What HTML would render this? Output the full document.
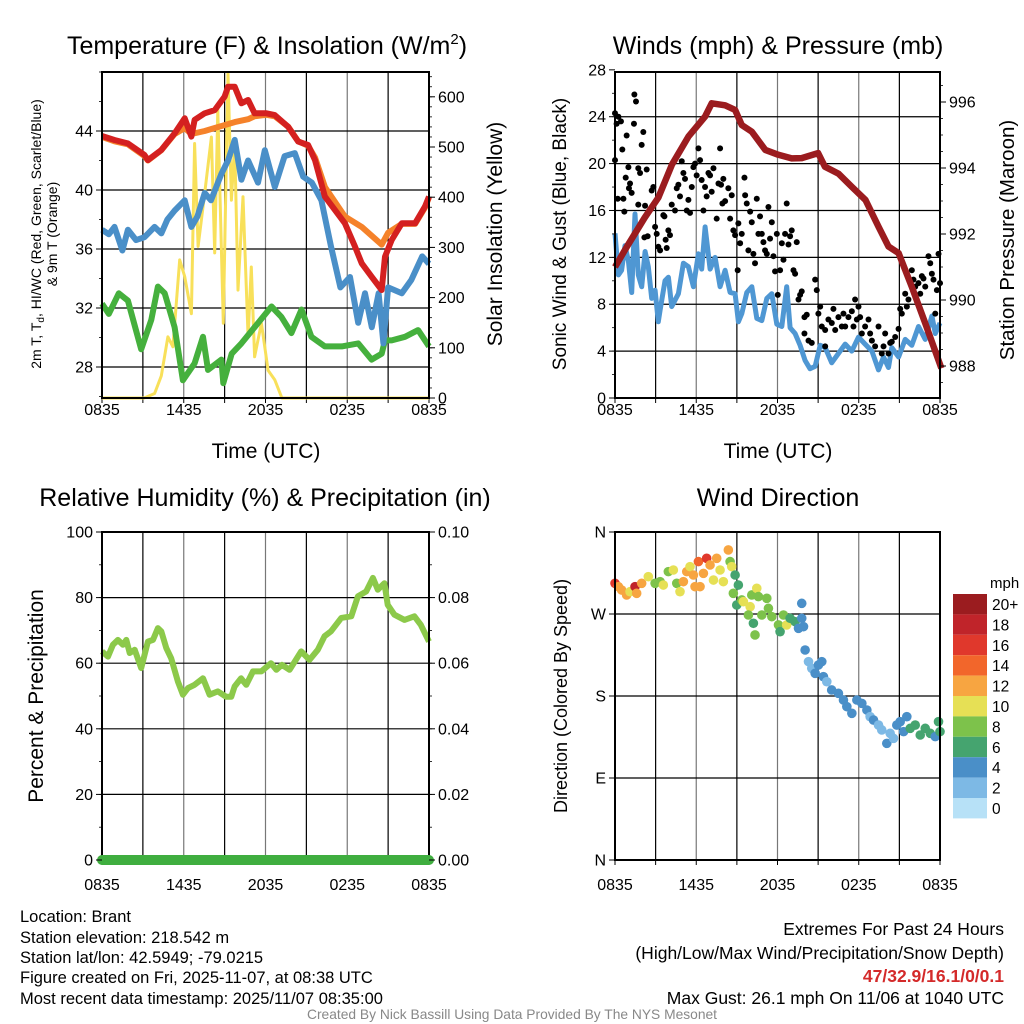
<!DOCTYPE html>
<html><head><meta charset="utf-8"><style>
body{margin:0;background:#fff;}
svg{display:block;font-family:"Liberation Sans",Arial,sans-serif;}
</style></head><body>
<svg id="c" width="1024" height="1024" viewBox="0 0 1024 1024" xmlns="http://www.w3.org/2000/svg">
<rect width="1024" height="1024" fill="#fff"/>
<text x="267" y="54" font-size="25" text-anchor="middle">Temperature (F) &amp; Insolation (W/m<tspan font-size="15" dy="-10">2</tspan><tspan dy="10">)</tspan></text>
<text x="778" y="54" font-size="25" text-anchor="middle">Winds (mph) &amp; Pressure (mb)</text>
<text x="265" y="506" font-size="25" text-anchor="middle">Relative Humidity (%) &amp; Precipitation (in)</text>
<text x="778" y="506" font-size="25" text-anchor="middle">Wind Direction</text>
<text x="266" y="458" font-size="21" text-anchor="middle">Time (UTC)</text>
<text x="778" y="458" font-size="21" text-anchor="middle">Time (UTC)</text>
<text transform="translate(41,234) rotate(-90)" font-size="14" text-anchor="middle">2m T, T<tspan font-size="10" dy="3">d</tspan><tspan dy="-3">, HI/WC (Red, Green, Scarlet/Blue)</tspan></text>
<text transform="translate(57,234) rotate(-90)" font-size="14" text-anchor="middle">&amp; 9m T (Orange)</text>
<text transform="translate(502,234) rotate(-90)" font-size="21" text-anchor="middle">Solar Insolation (Yellow)</text>
<text transform="translate(566,234) rotate(-90)" font-size="19" text-anchor="middle">Sonic Wind &amp; Gust (Blue, Black)</text>
<text transform="translate(1014,240) rotate(-90)" font-size="20.5" text-anchor="middle">Station Pressure (Maroon)</text>
<text transform="translate(43,696) rotate(-90)" font-size="21" text-anchor="middle">Percent &amp; Precipitation</text>
<text transform="translate(567,696) rotate(-90)" font-size="18" text-anchor="middle">Direction (Colored By Speed)</text>
<g font-size="16.5">
<text x="20" y="922">Location: Brant</text>
<text x="20" y="943">Station elevation: 218.542 m</text>
<text x="20" y="963">Station lat/lon: 42.5949; -79.0215</text>
<text x="20" y="983">Figure created on Fri, 2025-11-07, at 08:38 UTC</text>
<text x="20" y="1004">Most recent data timestamp: 2025/11/07 08:35:00</text>
</g>
<g font-size="17.5" text-anchor="end">
<text x="1004" y="935">Extremes For Past 24 Hours</text>
<text x="1004" y="959">(High/Low/Max Wind/Precipitation/Snow Depth)</text>
<text x="1004" y="982" fill="#d42a2a" font-weight="bold">47/32.9/16.1/0/0.1</text>
<text x="1004" y="1004">Max Gust: 26.1 mph On 11/06 at 1040 UTC</text>
</g>
<text x="512" y="1019" font-size="13.8" fill="#888" text-anchor="middle">Created By Nick Bassill Using Data Provided By The NYS Mesonet</text>
</svg>
<script>
// ---- data (hours since 0835 UTC) ----
const xLabels=["0835","1435","2035","0235","0835"];
const tempTicks=[28,32,36,40,44];
const solarTicks=[0,100,200,300,400,500,600];
const windTicks=[0,4,8,12,16,20,24,28];
const presTicks=[988,990,992,994,996];
const rhTicks=[0,20,40,60,80,100];
const precipTicks=["0.00","0.02","0.04","0.06","0.08","0.10"];
const dirTicks=["N","E","S","W","N"];
const redH=[0,0.92,1.9,3.12,3.37,4.35,5.33,6.07,6.56,6.8,7.54,8.27,9.0,9.25,9.74,10.23,10.72,11.2,12.07,12.68,13.66,14.4,15.13,15.63,16.36,17.1,17.83,18.57,19.06,19.79,20.53,20.77,21.26,22.0,22.98,23.7,24];
const redT=[43.66,43.39,43.16,42.37,42.03,42.71,43.84,44.86,43.62,44.75,45.2,45.42,46.33,47.0,47.0,45.88,46.1,45.2,45.2,45.08,44.29,43.28,43.05,42.03,39.55,38.64,37.74,36.16,35.03,34.12,33.22,35.48,36.61,37.74,37.74,38.87,39.55];
const orgH=[0,0.92,1.9,3.12,3.37,4.35,5.33,6.07,6.56,7.54,8.27,9.0,9.74,10.72,11.2,12.07,12.68,13.66,14.4,15.13,15.63,16.36,17.83,19.06,20.53,21.0,22.0,22.98,23.7,24];
const orgT=[43.6,43.3,43.1,42.3,42.0,42.7,43.8,44.2,43.8,44.0,44.2,44.4,44.6,44.8,45.0,45.1,45.0,44.3,43.3,43.0,42.2,40.2,38.2,37.5,36.3,37.1,37.7,37.7,38.8,39.5];
const bluH=[0,0.5,0.92,1.5,1.9,2.5,3.12,3.86,4.35,4.8,5.33,6.07,6.56,7.0,7.54,8.0,8.76,9.25,9.74,10.23,10.72,11.45,11.95,12.68,13.4,14.15,14.77,15.4,16.1,16.8,17.5,18.2,18.8,19.3,19.8,20.3,20.65,21.0,22.0,22.7,23.5,24];
const bluT=[37.3,37.0,37.5,35.9,37.3,36.6,36.8,37.5,37.06,38.0,38.6,39.3,37.5,38.2,39.8,39.3,41.1,42.0,43.4,40.7,42.0,40.5,42.7,40.2,42.3,42.5,40.9,40.5,39.3,36.2,33.4,34.1,31.0,33.0,30.7,33.0,29.6,33.4,33.0,33.9,35.5,35.0];
const grnH=[0,0.5,1.23,1.9,2.88,3.62,4.1,4.6,5.33,5.94,6.8,7.41,7.78,8.76,8.9,9.52,10.23,11.2,12.44,13.17,13.9,14.64,15.37,16.36,17.6,18.8,19.79,20.53,20.77,21.26,22.24,23.2,24];
const grnT=[32.3,31.6,33.0,32.5,29.2,31.2,33.45,33.0,30.7,27.1,28.25,30.05,27.8,28.5,26.9,28.9,29.6,30.7,32.1,31.4,30.3,31.9,30.05,29.4,29.4,29.6,28.5,28.9,29.8,29.8,30.05,30.5,29.4];
const solH=[0,3.1,3.86,4.35,4.84,5.2,5.7,6.07,6.56,6.8,7.05,7.54,8.03,8.27,8.5,8.9,9.25,9.5,9.74,9.98,10.35,10.72,10.96,11.2,11.7,12.19,12.68,13.2,24];
const solW=[0,0,9,44,122,102,275,242,168,507,302,408,520,289,574,149,647,394,507,215,401,122,261,82,149,55,36,0,0];
const presH=[0,0.86,2.2,3.2,4.2,5.42,6.65,7.14,8.13,8.87,9.36,10.1,11.1,12.07,13.05,13.79,15.0,15.5,16.5,17.49,18.5,19.46,20.2,20.94,21.92,22.91,24.1];
const presMb=[991.0,991.6,992.5,993.1,994.1,994.95,995.56,995.96,995.9,995.76,995.3,995.1,994.55,994.4,994.29,994.3,994.45,994.04,993.83,993.43,993.03,992.22,991.62,991.42,990.4,989.3,987.93];
const windH=[0,0.25,0.49,0.74,0.99,1.23,1.48,1.72,1.97,2.22,2.46,2.71,2.96,3.2,3.33,3.69,3.94,4.19,4.68,5.05,5.42,5.79,6.16,6.4,6.65,7.02,7.39,7.76,8.13,8.5,8.87,9.11,9.36,9.73,10.1,10.47,10.84,11.21,11.58,11.95,12.32,12.68,12.93,13.3,13.67,14.04,14.4,14.78,15.15,15.52,16.0,16.5,17.0,17.49,17.98,18.47,18.97,19.46,19.83,20.2,20.44,20.94,21.43,21.92,22.41,22.91,23.4,23.65,24];
const windMph=[14.05,10.5,10.9,13.0,11.7,9.0,15.7,10.5,9.5,12.5,11.2,8.5,9.2,6.5,7.5,10.0,10.3,7.8,8.9,11.5,11.2,9.5,12.3,11.0,14.6,11.0,12.0,9.5,10.9,9.0,8.9,6.5,7.2,9.0,9.5,6.8,6.6,8.5,8.9,6.3,6.1,9.5,6.0,5.5,4.5,3.2,2.5,2.7,4.5,4.3,3.0,3.8,4.6,4.0,5.2,4.6,4.0,2.4,3.5,2.6,4.3,3.5,5.0,4.5,6.1,5.0,7.0,5.5,6.4];
const gustH=[0,0,0.12,0.25,0.44,0.2,0.62,0.54,0.86,0.79,0.99,1.03,1.11,1.23,0.69,1.4,1.43,1.55,1.72,1.85,1.72,1.97,2.09,2.22,2.34,2.17,2.41,2.71,2.83,2.96,3.08,3.2,3.33,3.57,3.65,3.74,3.82,3.94,4.06,4.19,4.43,4.56,4.68,4.8,4.93,5.05,5.17,5.3,5.42,5.54,5.67,5.79,5.91,6.03,6.16,6.28,6.4,6.53,6.65,6.77,6.9,7.02,7.14,7.27,7.51,7.64,7.76,7.83,7.93,8.0,8.13,8.37,8.5,8.62,8.74,8.87,9.06,9.11,9.24,9.36,9.56,9.61,9.73,9.85,9.98,10.1,10.22,10.34,10.47,10.59,10.71,10.84,10.96,11.08,11.21,11.33,11.45,11.58,11.7,11.82,11.95,12.02,12.19,12.32,12.44,12.56,12.68,12.81,12.93,13.05,13.18,13.3,13.42,13.55,13.67,13.79,13.99,14.16,13.99,14.29,14.53,14.78,14.9,15.02,15.15,15.27,15.52,15.52,15.76,16.01,16.13,16.26,16.5,16.75,16.87,17.0,17.24,17.49,17.61,17.73,17.86,17.98,18.1,18.23,18.47,18.72,18.84,18.97,19.21,19.46,19.7,19.83,19.95,20.2,20.32,20.44,20.69,20.94,21.06,21.18,21.43,21.55,21.67,21.92,22.04,22.17,22.41,22.54,22.66,22.78,22.91,23.15,23.28,23.4,23.52,23.65,23.77,23.89,24.0];
const gustMph=[20.3,24.3,23.4,24.0,23.6,17.0,17.0,21.2,22.4,18.8,19.7,17.9,18.3,17.5,15.9,23.4,25.9,25.3,19.6,19.2,16.5,21.6,22.7,16.4,19.5,13.7,13.8,17.7,18.0,14.6,14.0,12.9,12.6,15.6,15.5,13.5,12.8,14.3,13.9,16.5,16.0,17.9,18.2,17.2,20.2,19.2,18.7,16.0,16.9,15.8,18.0,19.7,20.0,19.0,21.3,20.3,18.6,16.0,18.0,17.2,19.2,19.0,17.6,19.6,15.3,18.3,21.3,18.2,16.6,18.7,16.8,17.9,15.3,17.3,14.3,13.9,10.9,14.9,13.2,14.0,18.8,17.3,16.6,12.6,15.9,15.0,12.3,11.5,17.0,14.0,15.5,14.0,13.3,12.6,12.3,16.3,13.6,15.0,12.1,10.8,14.0,8.8,10.9,13.2,11.8,14.0,16.6,13.1,13.8,14.3,10.9,10.6,13.3,8.4,8.8,9.1,6.9,7.1,5.5,4.9,4.7,10.1,9.2,7.2,7.8,6.1,4.4,5.8,6.7,6.4,7.6,5.8,6.9,6.1,7.2,6.1,6.9,7.4,6.1,8.4,6.7,7.8,6.9,5.5,6.1,6.7,5.5,4.9,4.4,6.1,3.8,4.4,5.5,3.8,4.7,4.8,5.2,5.9,7.6,7.2,8.9,7.8,8.4,10.9,10.1,9.5,9.8,8.9,10.4,10.2,9.5,12.1,11.5,10.6,10.1,7.2,9.2,12.3,9.8];
const rhH=[0,0.44,0.8,1.17,1.54,1.78,2.03,2.4,2.88,3.37,3.74,4.1,4.35,4.72,5.08,5.57,5.94,6.31,6.8,7.41,7.9,8.5,9.1,9.49,9.73,10.2,10.59,11.08,11.69,12.4,12.8,13.2,13.77,14.62,15.23,15.84,16.33,16.8,17.56,18.3,18.78,19.39,19.88,20.24,20.73,20.97,21.46,22.2,22.93,23.4,24];
const rhPct=[63.6,62,65.6,67.1,65.6,67.1,63.1,64.1,58.5,66.6,67.1,70.7,69.7,64.6,61.5,54.4,50.4,52.4,53.4,55.4,50.4,51.4,49.8,49.8,52.9,55.4,53.4,57.5,57.5,60.0,58.0,59.5,58.0,63.6,61.0,64.1,68.2,69.7,73.8,74.3,80.4,81.9,86.0,82.4,84.4,77.8,74.8,73.2,74.3,71.7,66.6];
const precipH=[0,24];
const precipIn=[0,0];
const dirH=[0,0.25,0.49,0.86,1.11,1.48,1.6,1.97,2.46,2.96,3.33,3.57,3.94,4.31,4.56,4.8,5.05,5.3,5.54,5.79,5.91,6.28,6.16,6.53,6.77,7.02,7.27,7.51,7.76,8.0,8.37,8.5,8.62,8.87,9.11,8.74,8.99,9.36,9.48,9.98,10.1,10.47,10.59,11.21,9.85,10.22,10.34,10.84,11.33,11.58,12.07,12.19,12.44,12.68,12.93,13.3,13.55,13.79,13.79,13.92,14.04,14.29,14.53,14.78,15.27,15.02,15.39,15.64,16.0,16.5,16.87,17.12,17.49,17.86,18.23,18.6,18.84,19.09,19.46,19.7,20.07,20.32,20.57,20.81,21.06,21.31,21.55,21.8,22.17,22.54,22.91,23.28,23.65,23.89,24];
const dirDeg=[303.7,300,296.3,290.9,294.5,300,292.7,303.7,311,303.7,305.5,301.8,316.5,318.3,303.7,294.5,305.5,316.5,322,312.8,300,300,327.5,314.6,331.1,323.8,307.3,331.1,318.3,305.5,340.3,327.5,322,312.8,301.8,292.7,279.9,285.4,283.5,278,290.9,298.2,289.1,287.2,268.9,259.8,247,268.9,276.2,267.1,258,250.6,268.9,258,265.3,261.6,254.3,281.7,265.3,256.1,230.5,217.7,210.4,204.9,217.7,214,201.2,195.7,186.6,182.9,175.6,168.3,161,175.6,171.9,164.6,157.3,153.6,148.1,142.7,128,139,133.5,148.1,151.8,140.9,157.3,144.5,148.1,137.2,144.5,139,135.4,151.8,140.9];
const dirSpd=[16,12,12,12,10,18,12,12,10,8,8,10,8,10,8,10,12,12,10,12,12,12,14,12,16,12,10,12,10,10,12,8,10,6,6,8,6,8,10,10,8,10,8,8,8,6,8,8,8,8,8,6,8,10,6,6,4,4,4,4,4,2,2,4,4,4,4,2,4,4,4,4,4,4,4,4,2,4,2,2,4,2,2,4,4,4,4,6,6,6,6,6,4,6,6];
const cbLabels=["20+","18","16","14","12","10","8","6","4","2","0"];
const cbColors=["#9b1c1f","#c0242a","#e0382c","#f2662b","#f7a541","#e6e055","#7dc24b","#45a46f","#4a8fc8","#7db9e5","#b7e1f7"];

const NS="http://www.w3.org/2000/svg";
const svg=document.getElementById('c');
function mk(tag,attrs,parent){const e=document.createElementNS(NS,tag);for(const k in attrs)e.setAttribute(k,attrs[k]);(parent||svg).appendChild(e);return e;}
function pathFrom(xs,ys,fx,fy){let d='';for(let i=0;i<xs.length;i++)d+=(i?'L':'M')+fx(xs[i]).toFixed(1)+','+fy(ys[i]).toFixed(1);return d;}

function frame(name,x0,x1,y0,y1,hVals,fy,labOff){
  const g=mk('g',{});
  
  
  for(let i=1;i<8;i++){const x=x0+(x1-x0)*i/8;mk('line',{x1:x,x2:x,y1:y0,y2:y1,stroke:i%2?'#000':'#777','stroke-width':1.2},g);}
  hVals.forEach(v=>{const y=fy(v);mk('line',{x1:x0,x2:x1,y1:y,y2:y,stroke:'#000','stroke-width':1.2},g);});
  const xa=mk('g',{});
  
  
  for(let i=0;i<=8;i++){const x=x0+(x1-x0)*i/8;mk('line',{x1:x,x2:x,y1:y1,y2:y1+5,stroke:'#000','stroke-width':1},xa);}
  xLabels.forEach((l,i)=>{const t=mk('text',{x:x0+(x1-x0)*i/4,y:y1+labOff,'font-size':16,'text-anchor':'middle'},xa);t.textContent=l;});
}
function border(name,x0,x1,y0,y1){const r=mk('rect',{x:x0,y:y0,width:x1-x0,height:y1-y0,fill:'none',stroke:'#000','stroke-width':2});}
function yAxis(name,xEdge,side,ticks,labels,fy,minorStep,lo,hi){
  const g=mk('g',{});
  
  
  const s=side==='left'?-1:1;
  if(minorStep){for(let v=lo;v<=hi+1e-9;v+=minorStep){const y=fy(v);mk('line',{x1:xEdge,x2:xEdge+s*3,y1:y,y2:y,stroke:'#000','stroke-width':0.8},g);}}
  ticks.forEach((v,i)=>{const y=fy(v);mk('line',{x1:xEdge,x2:xEdge+s*6,y1:y,y2:y,stroke:'#000','stroke-width':1},g);
    const t=mk('text',{x:xEdge+s*9,y:y+5.5,'font-size':16,'text-anchor':side==='left'?'end':'start'},g);t.textContent=labels[i];});
}

// ---------- Panel 1 ----------
const P1={x0:102,x1:429,y0:72,y1:398};
const x1f=h=>P1.x0+h*(P1.x1-P1.x0)/24;
const yT=v=>131+(44-v)*14.75;
const yS=v=>398-v*0.502;
frame('temp',P1.x0,P1.x1,P1.y0,P1.y1,tempTicks,yT,17);
let e;
e=mk('path',{d:pathFrom(solH,solW,x1f,yS),fill:'none',stroke:'#f8e05a','stroke-width':3,'stroke-linejoin':'round'});


e=mk('path',{d:pathFrom(grnH,grnT,x1f,yT),fill:'none',stroke:'#45b03d','stroke-width':6,'stroke-linejoin':'round'});


e=mk('path',{d:pathFrom(bluH,bluT,x1f,yT),fill:'none',stroke:'#4a8fc8','stroke-width':6,'stroke-linejoin':'round'});


e=mk('path',{d:pathFrom(orgH,orgT,x1f,yT),fill:'none',stroke:'#f5822a','stroke-width':6,'stroke-linejoin':'round'});


e=mk('path',{d:pathFrom(redH,redT,x1f,yT),fill:'none',stroke:'#d42020','stroke-width':6,'stroke-linejoin':'round'});


border('temp',P1.x0,P1.x1,P1.y0,P1.y1);
yAxis('temp-y-axis',P1.x0,'left',tempTicks,tempTicks.map(String),yT,2,26,48);
yAxis('solar-y-axis',P1.x1,'right',solarTicks,solarTicks.map(String),yS,20,0,640);

// ---------- Panel 2 ----------
const P2={x0:615,x1:940,y0:72,y1:398};
const x2f=h=>P2.x0+h*(P2.x1-P2.x0)/24;
const yW=v=>398-v*11.72;
const yP=p=>366-(p-988)*33;
frame('wind',P2.x0,P2.x1,P2.y0,P2.y1,windTicks.slice(1,7),yW,17);
e=mk('path',{d:pathFrom(windH,windMph,x2f,yW),fill:'none',stroke:'#4f97d3','stroke-width':5,'stroke-linejoin':'round'});


const gg=mk('g',{});


gustH.forEach((h,i)=>{const c=mk('circle',{cx:x2f(h),cy:yW(gustMph[i]),r:3,fill:'#000'},gg);

});
e=mk('path',{d:pathFrom(presH,presMb,x2f,yP),fill:'none',stroke:'#9b1c1f','stroke-width':6.5,'stroke-linejoin':'round'});


border('wind',P2.x0,P2.x1,P2.y0,P2.y1);
yAxis('wind-y-axis',P2.x0,'left',windTicks,windTicks.map(String),yW,2,0,27.8);
yAxis('pressure-y-axis',P2.x1,'right',presTicks,presTicks.map(String),yP,0.5,987.5,996.5);

// ---------- Panel 3 ----------
const P3={x0:102,x1:429,y0:532,y1:860};
const x3f=h=>P3.x0+h*(P3.x1-P3.x0)/24;
const yR=v=>860-v*3.28;
const yPr=v=>860-v*3280;
frame('rh',P3.x0,P3.x1,P3.y0,P3.y1,[20,40,60,80],yR,30);
e=mk('path',{d:pathFrom(rhH,rhPct,x3f,yR),fill:'none',stroke:'#8cc94a','stroke-width':6,'stroke-linejoin':'round'});


border('rh',P3.x0,P3.x1,P3.y0,P3.y1);
e=mk('path',{d:pathFrom(precipH,precipIn,x3f,yPr),fill:'none',stroke:'#3fae3f','stroke-width':10,'stroke-linecap':'round'});


yAxis('rh-y-axis',P3.x0,'left',rhTicks,rhTicks.map(String),yR,10,0,100);
yAxis('precip-y-axis',P3.x1,'right',[0,0.02,0.04,0.06,0.08,0.10],precipTicks,yPr,0.01,0,0.1);

// ---------- Panel 4 ----------
const P4={x0:615,x1:940,y0:532,y1:860};
const x4f=h=>P4.x0+h*(P4.x1-P4.x0)/24;
const yD=d=>860-d*328/360;
frame('direction',P4.x0,P4.x1,P4.y0,P4.y1,[90,180,270],yD,30);
const dg=mk('g',{});


dirH.forEach((h,i)=>{const idx=10-Math.min(10,Math.floor(dirSpd[i]/2));
const c=mk('circle',{cx:x4f(h),cy:yD(dirDeg[i]),r:4.8,fill:cbColors[idx]},dg);

});
border('direction',P4.x0,P4.x1,P4.y0,P4.y1);
yAxis('direction-y-axis',P4.x0,'left',[0,90,180,270,360],dirTicks,yD,0,0,0);

// colorbar
const cb=mk('g',{});


const ct=mk('text',{x:990,y:588,'font-size':15},cb);ct.textContent='mph';
cbLabels.forEach((l,i)=>{const y=594+i*20.4;
const r=mk('rect',{x:953,y:y,width:34,height:20.4,fill:cbColors[i]},cb);


const t=mk('text',{x:992,y:y+16,'font-size':15.5},cb);t.textContent=l;});
</script>
</body></html>
